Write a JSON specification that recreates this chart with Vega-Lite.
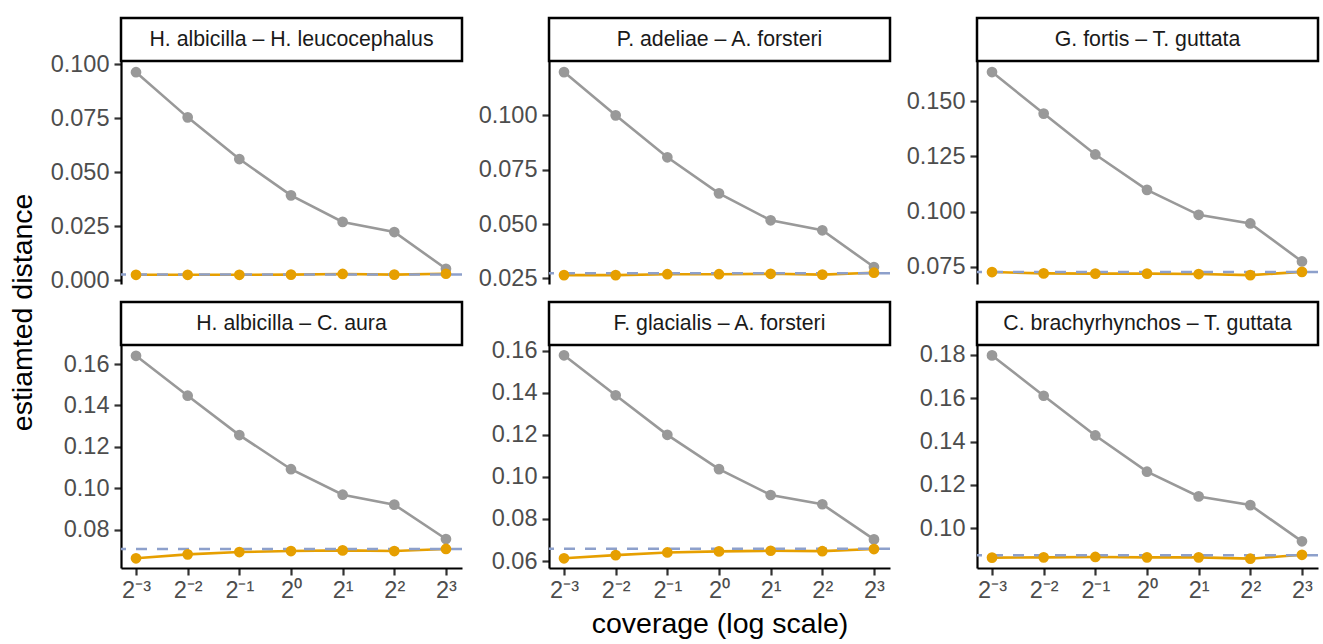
{
  "$schema": "https://vega.github.io/schema/vega-lite/v6.json",
  "padding": {"left": 8, "top": 16, "right": 2, "bottom": 2},
  "background": "white",
  "title": {"text": "estiamted distance", "orient": "left", "anchor": "middle", "fontSize": 28.5, "font": "Liberation Sans", "fontWeight": "normal", "color": "black", "offset": 13, "dx": 15},
  "datasets": {
    "strips": [
      {"pair": "H. albicilla – H. leucocephalus"},
      {"pair": "P. adeliae – A. forsteri"},
      {"pair": "G. fortis – T. guttata"},
      {"pair": "H. albicilla – C. aura"},
      {"pair": "F. glacialis – A. forsteri"},
      {"pair": "C. brachyrhynchos – T. guttata"}
    ],
    "refs": [
      {"pair": "H. albicilla – H. leucocephalus", "reference": 0.0026},
      {"pair": "P. adeliae – A. forsteri", "reference": 0.0273},
      {"pair": "G. fortis – T. guttata", "reference": 0.0726},
      {"pair": "H. albicilla – C. aura", "reference": 0.0707},
      {"pair": "F. glacialis – A. forsteri", "reference": 0.0658},
      {"pair": "C. brachyrhynchos – T. guttata", "reference": 0.0876}
    ],
    "pts": [
      {"pair": "H. albicilla – H. leucocephalus", "method": "raw", "coverage": 0.125, "distance": 0.0962},
      {"pair": "H. albicilla – H. leucocephalus", "method": "raw", "coverage": 0.25, "distance": 0.0753},
      {"pair": "H. albicilla – H. leucocephalus", "method": "raw", "coverage": 0.5, "distance": 0.0560},
      {"pair": "H. albicilla – H. leucocephalus", "method": "raw", "coverage": 1, "distance": 0.0392},
      {"pair": "H. albicilla – H. leucocephalus", "method": "raw", "coverage": 2, "distance": 0.0269},
      {"pair": "H. albicilla – H. leucocephalus", "method": "raw", "coverage": 4, "distance": 0.0222},
      {"pair": "H. albicilla – H. leucocephalus", "method": "raw", "coverage": 8, "distance": 0.0052},
      {"pair": "H. albicilla – H. leucocephalus", "method": "corrected", "coverage": 0.125, "distance": 0.0024},
      {"pair": "H. albicilla – H. leucocephalus", "method": "corrected", "coverage": 0.25, "distance": 0.0024},
      {"pair": "H. albicilla – H. leucocephalus", "method": "corrected", "coverage": 0.5, "distance": 0.0024},
      {"pair": "H. albicilla – H. leucocephalus", "method": "corrected", "coverage": 1, "distance": 0.0025},
      {"pair": "H. albicilla – H. leucocephalus", "method": "corrected", "coverage": 2, "distance": 0.0028},
      {"pair": "H. albicilla – H. leucocephalus", "method": "corrected", "coverage": 4, "distance": 0.0025},
      {"pair": "H. albicilla – H. leucocephalus", "method": "corrected", "coverage": 8, "distance": 0.0029},

      {"pair": "P. adeliae – A. forsteri", "method": "raw", "coverage": 0.125, "distance": 0.1199},
      {"pair": "P. adeliae – A. forsteri", "method": "raw", "coverage": 0.25, "distance": 0.1000},
      {"pair": "P. adeliae – A. forsteri", "method": "raw", "coverage": 0.5, "distance": 0.0807},
      {"pair": "P. adeliae – A. forsteri", "method": "raw", "coverage": 1, "distance": 0.0641},
      {"pair": "P. adeliae – A. forsteri", "method": "raw", "coverage": 2, "distance": 0.0517},
      {"pair": "P. adeliae – A. forsteri", "method": "raw", "coverage": 4, "distance": 0.0471},
      {"pair": "P. adeliae – A. forsteri", "method": "raw", "coverage": 8, "distance": 0.0302},
      {"pair": "P. adeliae – A. forsteri", "method": "corrected", "coverage": 0.125, "distance": 0.0265},
      {"pair": "P. adeliae – A. forsteri", "method": "corrected", "coverage": 0.25, "distance": 0.0265},
      {"pair": "P. adeliae – A. forsteri", "method": "corrected", "coverage": 0.5, "distance": 0.0269},
      {"pair": "P. adeliae – A. forsteri", "method": "corrected", "coverage": 1, "distance": 0.0269},
      {"pair": "P. adeliae – A. forsteri", "method": "corrected", "coverage": 2, "distance": 0.0271},
      {"pair": "P. adeliae – A. forsteri", "method": "corrected", "coverage": 4, "distance": 0.0267},
      {"pair": "P. adeliae – A. forsteri", "method": "corrected", "coverage": 8, "distance": 0.0276},

      {"pair": "G. fortis – T. guttata", "method": "raw", "coverage": 0.125, "distance": 0.1631},
      {"pair": "G. fortis – T. guttata", "method": "raw", "coverage": 0.25, "distance": 0.1443},
      {"pair": "G. fortis – T. guttata", "method": "raw", "coverage": 0.5, "distance": 0.1258},
      {"pair": "G. fortis – T. guttata", "method": "raw", "coverage": 1, "distance": 0.1098},
      {"pair": "G. fortis – T. guttata", "method": "raw", "coverage": 2, "distance": 0.0985},
      {"pair": "G. fortis – T. guttata", "method": "raw", "coverage": 4, "distance": 0.0946},
      {"pair": "G. fortis – T. guttata", "method": "raw", "coverage": 8, "distance": 0.0774},
      {"pair": "G. fortis – T. guttata", "method": "corrected", "coverage": 0.125, "distance": 0.0726},
      {"pair": "G. fortis – T. guttata", "method": "corrected", "coverage": 0.25, "distance": 0.0720},
      {"pair": "G. fortis – T. guttata", "method": "corrected", "coverage": 0.5, "distance": 0.0719},
      {"pair": "G. fortis – T. guttata", "method": "corrected", "coverage": 1, "distance": 0.0719},
      {"pair": "G. fortis – T. guttata", "method": "corrected", "coverage": 2, "distance": 0.0717},
      {"pair": "G. fortis – T. guttata", "method": "corrected", "coverage": 4, "distance": 0.0712},
      {"pair": "G. fortis – T. guttata", "method": "corrected", "coverage": 8, "distance": 0.0727},

      {"pair": "H. albicilla – C. aura", "method": "raw", "coverage": 0.125, "distance": 0.1640},
      {"pair": "H. albicilla – C. aura", "method": "raw", "coverage": 0.25, "distance": 0.1447},
      {"pair": "H. albicilla – C. aura", "method": "raw", "coverage": 0.5, "distance": 0.1257},
      {"pair": "H. albicilla – C. aura", "method": "raw", "coverage": 1, "distance": 0.1092},
      {"pair": "H. albicilla – C. aura", "method": "raw", "coverage": 2, "distance": 0.0969},
      {"pair": "H. albicilla – C. aura", "method": "raw", "coverage": 4, "distance": 0.0921},
      {"pair": "H. albicilla – C. aura", "method": "raw", "coverage": 8, "distance": 0.0755},
      {"pair": "H. albicilla – C. aura", "method": "corrected", "coverage": 0.125, "distance": 0.0662},
      {"pair": "H. albicilla – C. aura", "method": "corrected", "coverage": 0.25, "distance": 0.0681},
      {"pair": "H. albicilla – C. aura", "method": "corrected", "coverage": 0.5, "distance": 0.0692},
      {"pair": "H. albicilla – C. aura", "method": "corrected", "coverage": 1, "distance": 0.0697},
      {"pair": "H. albicilla – C. aura", "method": "corrected", "coverage": 2, "distance": 0.0700},
      {"pair": "H. albicilla – C. aura", "method": "corrected", "coverage": 4, "distance": 0.0697},
      {"pair": "H. albicilla – C. aura", "method": "corrected", "coverage": 8, "distance": 0.0707},

      {"pair": "F. glacialis – A. forsteri", "method": "raw", "coverage": 0.125, "distance": 0.1578},
      {"pair": "F. glacialis – A. forsteri", "method": "raw", "coverage": 0.25, "distance": 0.1388},
      {"pair": "F. glacialis – A. forsteri", "method": "raw", "coverage": 0.5, "distance": 0.1200},
      {"pair": "F. glacialis – A. forsteri", "method": "raw", "coverage": 1, "distance": 0.1037},
      {"pair": "F. glacialis – A. forsteri", "method": "raw", "coverage": 2, "distance": 0.0914},
      {"pair": "F. glacialis – A. forsteri", "method": "raw", "coverage": 4, "distance": 0.0870},
      {"pair": "F. glacialis – A. forsteri", "method": "raw", "coverage": 8, "distance": 0.0703},
      {"pair": "F. glacialis – A. forsteri", "method": "corrected", "coverage": 0.125, "distance": 0.0613},
      {"pair": "F. glacialis – A. forsteri", "method": "corrected", "coverage": 0.25, "distance": 0.0628},
      {"pair": "F. glacialis – A. forsteri", "method": "corrected", "coverage": 0.5, "distance": 0.0641},
      {"pair": "F. glacialis – A. forsteri", "method": "corrected", "coverage": 1, "distance": 0.0646},
      {"pair": "F. glacialis – A. forsteri", "method": "corrected", "coverage": 2, "distance": 0.0649},
      {"pair": "F. glacialis – A. forsteri", "method": "corrected", "coverage": 4, "distance": 0.0647},
      {"pair": "F. glacialis – A. forsteri", "method": "corrected", "coverage": 8, "distance": 0.0657},

      {"pair": "C. brachyrhynchos – T. guttata", "method": "raw", "coverage": 0.125, "distance": 0.1797},
      {"pair": "C. brachyrhynchos – T. guttata", "method": "raw", "coverage": 0.25, "distance": 0.1611},
      {"pair": "C. brachyrhynchos – T. guttata", "method": "raw", "coverage": 0.5, "distance": 0.1428},
      {"pair": "C. brachyrhynchos – T. guttata", "method": "raw", "coverage": 1, "distance": 0.1261},
      {"pair": "C. brachyrhynchos – T. guttata", "method": "raw", "coverage": 2, "distance": 0.1147},
      {"pair": "C. brachyrhynchos – T. guttata", "method": "raw", "coverage": 4, "distance": 0.1107},
      {"pair": "C. brachyrhynchos – T. guttata", "method": "raw", "coverage": 8, "distance": 0.0940},
      {"pair": "C. brachyrhynchos – T. guttata", "method": "corrected", "coverage": 0.125, "distance": 0.0865},
      {"pair": "C. brachyrhynchos – T. guttata", "method": "corrected", "coverage": 0.25, "distance": 0.0866},
      {"pair": "C. brachyrhynchos – T. guttata", "method": "corrected", "coverage": 0.5, "distance": 0.0868},
      {"pair": "C. brachyrhynchos – T. guttata", "method": "corrected", "coverage": 1, "distance": 0.0866},
      {"pair": "C. brachyrhynchos – T. guttata", "method": "corrected", "coverage": 2, "distance": 0.0866},
      {"pair": "C. brachyrhynchos – T. guttata", "method": "corrected", "coverage": 4, "distance": 0.0860},
      {"pair": "C. brachyrhynchos – T. guttata", "method": "corrected", "coverage": 8, "distance": 0.0878}
    ]
  },
  "columns": 3,
  "spacing": {"row": 8, "column": 14},
  "resolve": {"scale": {"x": "independent", "y": "independent", "color": "independent"}},
  "concat": [
    {"spacing": 0, "bounds": "flush", "vconcat": [
      {"width": 341, "height": 43, "view": {"stroke": "black", "strokeWidth": 2.5, "fill": "white"}, "data": {"name": "strips"},
       "transform": [{"filter": "datum.pair === 'H. albicilla – H. leucocephalus'"}],
       "mark": {"type": "text", "font": "Liberation Sans", "fontSize": 21.3, "color": "#1A1A1A", "baseline": "middle"},
       "encoding": {"text": {"field": "pair", "type": "nominal"}}},
      {"width": 341, "height": 223, "view": {"stroke": null},
       "layer": [
        {"data": {"name": "pts"}, "transform": [{"filter": "datum.pair === 'H. albicilla – H. leucocephalus'"}],
         "mark": {"type": "line", "strokeWidth": 2.6},
         "encoding": {
           "x": {"field": "coverage", "type": "quantitative", "scale": {"type": "log", "base": 2, "domain": [0.1022, 9.92], "nice": false}, "axis": null},
           "y": {"field": "distance", "type": "quantitative", "scale": {"domain": [-0.00185, 0.1014], "nice": false, "zero": false}, "axis": {"values": [0, 0.025, 0.05, 0.075, 0.1], "format": ".3f", "title": null}},
           "color": {"field": "method", "type": "nominal", "scale": {"domain": ["raw", "corrected"], "range": ["#999999", "#E69F00"]}, "legend": null}}},
        {"data": {"name": "refs"}, "transform": [{"filter": "datum.pair === 'H. albicilla – H. leucocephalus'"}],
         "mark": {"type": "rule", "color": "#8DA0CB", "strokeWidth": 2.5, "strokeDash": [11, 10]},
         "encoding": {"y": {"field": "reference", "type": "quantitative"}}},
        {"data": {"name": "pts"}, "transform": [{"filter": "datum.pair === 'H. albicilla – H. leucocephalus'"}],
         "mark": {"type": "point", "filled": true, "size": 115, "opacity": 1},
         "encoding": {
           "x": {"field": "coverage", "type": "quantitative"},
           "y": {"field": "distance", "type": "quantitative"},
           "color": {"field": "method", "type": "nominal"}}}
       ]}
    ]},
    {"spacing": 0, "bounds": "flush", "vconcat": [
      {"width": 341, "height": 43, "view": {"stroke": "black", "strokeWidth": 2.5, "fill": "white"}, "data": {"name": "strips"},
       "transform": [{"filter": "datum.pair === 'P. adeliae – A. forsteri'"}],
       "mark": {"type": "text", "font": "Liberation Sans", "fontSize": 21.3, "color": "#1A1A1A", "baseline": "middle"},
       "encoding": {"text": {"field": "pair", "type": "nominal"}}},
      {"width": 341, "height": 223, "view": {"stroke": null},
       "layer": [
        {"data": {"name": "pts"}, "transform": [{"filter": "datum.pair === 'P. adeliae – A. forsteri'"}],
         "mark": {"type": "line", "strokeWidth": 2.6},
         "encoding": {
           "x": {"field": "coverage", "type": "quantitative", "scale": {"type": "log", "base": 2, "domain": [0.1022, 9.92], "nice": false}, "axis": null},
           "y": {"field": "distance", "type": "quantitative", "scale": {"domain": [0.0224, 0.125], "nice": false, "zero": false}, "axis": {"values": [0.025, 0.05, 0.075, 0.1], "format": ".3f", "title": null}},
           "color": {"field": "method", "type": "nominal", "scale": {"domain": ["raw", "corrected"], "range": ["#999999", "#E69F00"]}, "legend": null}}},
        {"data": {"name": "refs"}, "transform": [{"filter": "datum.pair === 'P. adeliae – A. forsteri'"}],
         "mark": {"type": "rule", "color": "#8DA0CB", "strokeWidth": 2.5, "strokeDash": [11, 10]},
         "encoding": {"y": {"field": "reference", "type": "quantitative"}}},
        {"data": {"name": "pts"}, "transform": [{"filter": "datum.pair === 'P. adeliae – A. forsteri'"}],
         "mark": {"type": "point", "filled": true, "size": 115, "opacity": 1},
         "encoding": {
           "x": {"field": "coverage", "type": "quantitative"},
           "y": {"field": "distance", "type": "quantitative"},
           "color": {"field": "method", "type": "nominal"}}}
       ]}
    ]},
    {"spacing": 0, "bounds": "flush", "vconcat": [
      {"width": 341, "height": 43, "view": {"stroke": "black", "strokeWidth": 2.5, "fill": "white"}, "data": {"name": "strips"},
       "transform": [{"filter": "datum.pair === 'G. fortis – T. guttata'"}],
       "mark": {"type": "text", "font": "Liberation Sans", "fontSize": 21.3, "color": "#1A1A1A", "baseline": "middle"},
       "encoding": {"text": {"field": "pair", "type": "nominal"}}},
      {"width": 341, "height": 223, "view": {"stroke": null},
       "layer": [
        {"data": {"name": "pts"}, "transform": [{"filter": "datum.pair === 'G. fortis – T. guttata'"}],
         "mark": {"type": "line", "strokeWidth": 2.6},
         "encoding": {
           "x": {"field": "coverage", "type": "quantitative", "scale": {"type": "log", "base": 2, "domain": [0.1022, 9.92], "nice": false}, "axis": null},
           "y": {"field": "distance", "type": "quantitative", "scale": {"domain": [0.0672, 0.1681], "nice": false, "zero": false}, "axis": {"values": [0.075, 0.1, 0.125, 0.15], "format": ".3f", "title": null}},
           "color": {"field": "method", "type": "nominal", "scale": {"domain": ["raw", "corrected"], "range": ["#999999", "#E69F00"]}, "legend": null}}},
        {"data": {"name": "refs"}, "transform": [{"filter": "datum.pair === 'G. fortis – T. guttata'"}],
         "mark": {"type": "rule", "color": "#8DA0CB", "strokeWidth": 2.5, "strokeDash": [11, 10]},
         "encoding": {"y": {"field": "reference", "type": "quantitative"}}},
        {"data": {"name": "pts"}, "transform": [{"filter": "datum.pair === 'G. fortis – T. guttata'"}],
         "mark": {"type": "point", "filled": true, "size": 115, "opacity": 1},
         "encoding": {
           "x": {"field": "coverage", "type": "quantitative"},
           "y": {"field": "distance", "type": "quantitative"},
           "color": {"field": "method", "type": "nominal"}}}
       ]}
    ]},
    {"spacing": 0, "bounds": "flush", "vconcat": [
      {"width": 341, "height": 43, "view": {"stroke": "black", "strokeWidth": 2.5, "fill": "white"}, "data": {"name": "strips"},
       "transform": [{"filter": "datum.pair === 'H. albicilla – C. aura'"}],
       "mark": {"type": "text", "font": "Liberation Sans", "fontSize": 21.3, "color": "#1A1A1A", "baseline": "middle"},
       "encoding": {"text": {"field": "pair", "type": "nominal"}}},
      {"width": 341, "height": 223, "view": {"stroke": null},
       "layer": [
        {"data": {"name": "pts"}, "transform": [{"filter": "datum.pair === 'H. albicilla – C. aura'"}],
         "mark": {"type": "line", "strokeWidth": 2.6},
         "encoding": {
           "x": {"field": "coverage", "type": "quantitative", "scale": {"type": "log", "base": 2, "domain": [0.1022, 9.92], "nice": false},
                 "axis": {"values": [0.125, 0.25, 0.5, 1, 2, 4, 8], "title": null, "labelExpr": "datum.value < 0.2 ? '2⁻³' : datum.value < 0.3 ? '2⁻²' : datum.value < 0.6 ? '2⁻¹' : datum.value < 1.5 ? '2⁰' : datum.value < 3 ? '2¹' : datum.value < 5 ? '2²' : '2³'"}},
           "y": {"field": "distance", "type": "quantitative", "scale": {"domain": [0.0615, 0.1692], "nice": false, "zero": false}, "axis": {"values": [0.08, 0.1, 0.12, 0.14, 0.16], "format": ".2f", "title": null}},
           "color": {"field": "method", "type": "nominal", "scale": {"domain": ["raw", "corrected"], "range": ["#999999", "#E69F00"]}, "legend": null}}},
        {"data": {"name": "refs"}, "transform": [{"filter": "datum.pair === 'H. albicilla – C. aura'"}],
         "mark": {"type": "rule", "color": "#8DA0CB", "strokeWidth": 2.5, "strokeDash": [11, 10]},
         "encoding": {"y": {"field": "reference", "type": "quantitative"}}},
        {"data": {"name": "pts"}, "transform": [{"filter": "datum.pair === 'H. albicilla – C. aura'"}],
         "mark": {"type": "point", "filled": true, "size": 115, "opacity": 1},
         "encoding": {
           "x": {"field": "coverage", "type": "quantitative"},
           "y": {"field": "distance", "type": "quantitative"},
           "color": {"field": "method", "type": "nominal"}}}
       ]}
    ]},
    {"spacing": 0, "bounds": "flush", "vconcat": [
      {"width": 341, "height": 43, "view": {"stroke": "black", "strokeWidth": 2.5, "fill": "white"}, "data": {"name": "strips"},
       "transform": [{"filter": "datum.pair === 'F. glacialis – A. forsteri'"}],
       "mark": {"type": "text", "font": "Liberation Sans", "fontSize": 21.3, "color": "#1A1A1A", "baseline": "middle"},
       "encoding": {"text": {"field": "pair", "type": "nominal"}}},
      {"width": 341, "height": 223, "view": {"stroke": null},
       "layer": [
        {"data": {"name": "pts"}, "transform": [{"filter": "datum.pair === 'F. glacialis – A. forsteri'"}],
         "mark": {"type": "line", "strokeWidth": 2.6},
         "encoding": {
           "x": {"field": "coverage", "type": "quantitative", "scale": {"type": "log", "base": 2, "domain": [0.1022, 9.92], "nice": false},
                 "axis": {"values": [0.125, 0.25, 0.5, 1, 2, 4, 8], "title": "coverage (log scale)", "labelExpr": "datum.value < 0.2 ? '2⁻³' : datum.value < 0.3 ? '2⁻²' : datum.value < 0.6 ? '2⁻¹' : datum.value < 1.5 ? '2⁰' : datum.value < 3 ? '2¹' : datum.value < 5 ? '2²' : '2³'"}},
           "y": {"field": "distance", "type": "quantitative", "scale": {"domain": [0.0567, 0.1627], "nice": false, "zero": false}, "axis": {"values": [0.06, 0.08, 0.1, 0.12, 0.14, 0.16], "format": ".2f", "title": null}},
           "color": {"field": "method", "type": "nominal", "scale": {"domain": ["raw", "corrected"], "range": ["#999999", "#E69F00"]}, "legend": null}}},
        {"data": {"name": "refs"}, "transform": [{"filter": "datum.pair === 'F. glacialis – A. forsteri'"}],
         "mark": {"type": "rule", "color": "#8DA0CB", "strokeWidth": 2.5, "strokeDash": [11, 10]},
         "encoding": {"y": {"field": "reference", "type": "quantitative"}}},
        {"data": {"name": "pts"}, "transform": [{"filter": "datum.pair === 'F. glacialis – A. forsteri'"}],
         "mark": {"type": "point", "filled": true, "size": 115, "opacity": 1},
         "encoding": {
           "x": {"field": "coverage", "type": "quantitative"},
           "y": {"field": "distance", "type": "quantitative"},
           "color": {"field": "method", "type": "nominal"}}}
       ]}
    ]},
    {"spacing": 0, "bounds": "flush", "vconcat": [
      {"width": 341, "height": 43, "view": {"stroke": "black", "strokeWidth": 2.5, "fill": "white"}, "data": {"name": "strips"},
       "transform": [{"filter": "datum.pair === 'C. brachyrhynchos – T. guttata'"}],
       "mark": {"type": "text", "font": "Liberation Sans", "fontSize": 21.3, "color": "#1A1A1A", "baseline": "middle"},
       "encoding": {"text": {"field": "pair", "type": "nominal"}}},
      {"width": 341, "height": 223, "view": {"stroke": null},
       "layer": [
        {"data": {"name": "pts"}, "transform": [{"filter": "datum.pair === 'C. brachyrhynchos – T. guttata'"}],
         "mark": {"type": "line", "strokeWidth": 2.6},
         "encoding": {
           "x": {"field": "coverage", "type": "quantitative", "scale": {"type": "log", "base": 2, "domain": [0.1022, 9.92], "nice": false},
                 "axis": {"values": [0.125, 0.25, 0.5, 1, 2, 4, 8], "title": null, "labelExpr": "datum.value < 0.2 ? '2⁻³' : datum.value < 0.3 ? '2⁻²' : datum.value < 0.6 ? '2⁻¹' : datum.value < 1.5 ? '2⁰' : datum.value < 3 ? '2¹' : datum.value < 5 ? '2²' : '2³'"}},
           "y": {"field": "distance", "type": "quantitative", "scale": {"domain": [0.0817, 0.1845], "nice": false, "zero": false}, "axis": {"values": [0.1, 0.12, 0.14, 0.16, 0.18], "format": ".2f", "title": null}},
           "color": {"field": "method", "type": "nominal", "scale": {"domain": ["raw", "corrected"], "range": ["#999999", "#E69F00"]}, "legend": null}}},
        {"data": {"name": "refs"}, "transform": [{"filter": "datum.pair === 'C. brachyrhynchos – T. guttata'"}],
         "mark": {"type": "rule", "color": "#8DA0CB", "strokeWidth": 2.5, "strokeDash": [11, 10]},
         "encoding": {"y": {"field": "reference", "type": "quantitative"}}},
        {"data": {"name": "pts"}, "transform": [{"filter": "datum.pair === 'C. brachyrhynchos – T. guttata'"}],
         "mark": {"type": "point", "filled": true, "size": 115, "opacity": 1},
         "encoding": {
           "x": {"field": "coverage", "type": "quantitative"},
           "y": {"field": "distance", "type": "quantitative"},
           "color": {"field": "method", "type": "nominal"}}}
       ]}
    ]}
  ],
  "config": {
    "view": {"stroke": null},
    "font": "Liberation Sans",
    "axis": {
      "grid": false,
      "domainColor": "black", "domainWidth": 2.2,
      "tickColor": "#333333", "tickWidth": 2.2, "tickSize": 7,
      "labelFont": "Liberation Sans", "labelFontSize": 23.5, "labelColor": "#4D4D4D", "labelPadding": 5,
      "titleFont": "Liberation Sans", "titleFontSize": 28.5, "titleFontWeight": "normal", "titleColor": "black", "titlePadding": 8
    },
    "axisX": {"labelPadding": 3}
  }
}
